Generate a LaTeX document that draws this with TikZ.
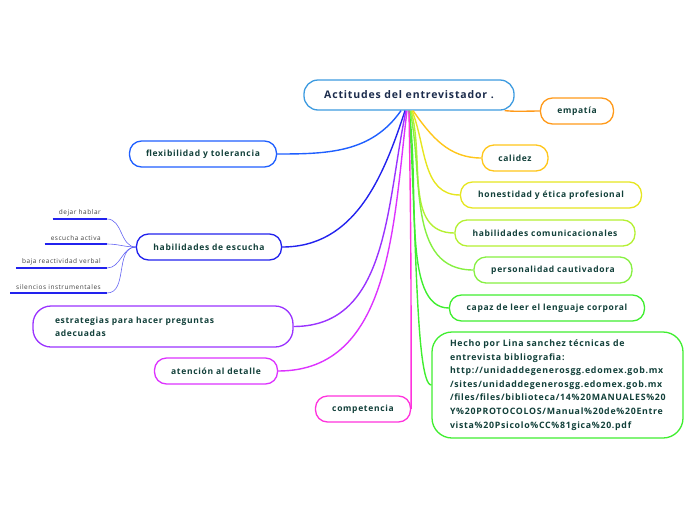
\documentclass[tikz,border=0pt]{standalone}
\usepackage{fontspec}
\setmainfont{Open Sans}[LetterSpace=8]
\usetikzlibrary{positioning}
\definecolor{entAzulClaro}{HTML}{3D9BE0}
\definecolor{entNaranja}{HTML}{FF9A1A}
\definecolor{entOro}{HTML}{FFC61A}
\definecolor{entAmarillo}{HTML}{E6E620}
\definecolor{entLima}{HTML}{B4F032}
\definecolor{entVerdeClaro}{HTML}{86F041}
\definecolor{entVerde}{HTML}{40EE30}
\definecolor{entAzul}{HTML}{1F5FFF}
\definecolor{entAzulOsc}{HTML}{2222EE}
\definecolor{entVioleta}{HTML}{9A33FF}
\definecolor{entLila}{HTML}{DD33FF}
\definecolor{entRosa}{HTML}{FF33DD}
\definecolor{entTexto}{HTML}{12403A}
\definecolor{entTitulo}{HTML}{1C2C4C}

\begin{document}
\begin{tikzpicture}[x=1pt, y=-1pt,
      rama/.style={rounded corners=12pt, draw=#1, line width=1.3pt, fill=white,
                   minimum height=26pt, align=center, text=entTexto,
                   font=\fontsize{8.5}{10}\selectfont\bfseries},
      hoja/.style={font=\fontsize{6.5}{7}\selectfont, text=black!75,
                   inner xsep=6pt, inner ysep=3pt, anchor=south east},
      enlace/.style={draw=#1, line width=1.4pt},
      subenlace/.style={draw=entAzulOsc!70, line width=0.6pt}]
    \useasboundingbox (0,0) rectangle (696,520);
    \node[rama=entAzulClaro, minimum width=210pt, minimum height=30pt, rounded corners=14pt,
          text=entTitulo, font=\fontsize{10.5}{12}\selectfont\bfseries] (central) at (409,95) {Actitudes del entrevistador .};
    % ramas derecha
    \node[rama=entNaranja, minimum width=73pt]     (empatia) at (577,111) {empatía};
    \node[rama=entOro, minimum width=66pt]         (calidez) at (515,158) {calidez};
    \node[rama=entAmarillo, minimum width=181pt]   (honest)  at (551,195) {honestidad y ética profesional};
    \node[rama=entLima, minimum width=180pt]       (comunic) at (545,233) {habilidades comunicacionales};
    \node[rama=entVerdeClaro, minimum width=158pt] (person)  at (553,270) {personalidad cautivadora};
    \node[rama=entVerde, minimum width=195pt]      (corporal) at (547,308) {capaz de leer el lenguaje corporal};
    \node[rama=entVerde, rounded corners=20pt, text width=215pt, inner xsep=18pt, align=left,
          minimum height=106pt, font=\fontsize{8.8}{13.6}\selectfont\bfseries] (hecho) at (557.5,385)
          {Hecho por Lina sanchez técnicas de\\
           entrevista bibliografia:\\
           http://unidaddegenerosgg.edomex.gob.mx\\
           /sites/unidaddegenerosgg.edomex.gob.mx\\
           /files/files/biblioteca/14\%20MANUALES\%20\\
           Y\%20PROTOCOLOS/Manual\%20de\%20Entre\\
           vista\%20Psicolo\%CC\%81gica\%20.pdf};
    % ramas izquierda
    \node[rama=entAzul, minimum width=147pt]    (flexib)  at (203,154) {flexibilidad y tolerancia};
    \node[rama=entAzulOsc, minimum width=145pt] (escucha) at (209,247) {habilidades de escucha};
    \node[rama=entVioleta, minimum height=41pt, rounded corners=18pt, text width=216pt,
          inner xsep=22pt, align=left, font=\fontsize{8.5}{13}\selectfont\bfseries] (estrat) at (163,326.5)
          {estrategias para hacer preguntas\\adecuadas};
    \node[rama=entLila, minimum width=123pt]    (atencion) at (216,371) {atención al detalle};
    \node[rama=entRosa, minimum width=95pt]     (compet)   at (363,409) {competencia};
    % hojas de escucha
    \node[hoja] (dejar)     at (107,219) {dejar hablar};
    \node[hoja] (activa)    at (107,244) {escucha activa};
    \node[hoja] (reactiv)   at (107,268) {baja reactividad verbal};
    \node[hoja] (silencios) at (107,293) {silencios instrumentales};
    \foreach \h in {dejar,activa,reactiv,silencios}{
      \draw[entAzulOsc, line width=2pt] (\h.south west) -- (\h.south east);
      \draw[subenlace] (escucha.west) to[out=180, in=0] (\h.south east);
    }
    % conectores
    \draw[enlace=entNaranja]    ([xshift=-10pt]central.south east) to[out=-5, in=180] (empatia.west);
    \draw[enlace=entOro]        ([xshift=4pt]central.south) to[out=-55, in=180] (calidez.west);
    \draw[enlace=entAmarillo]   ([xshift=3pt]central.south) to[out=-68, in=180] (honest.west);
    \draw[enlace=entLima]       ([xshift=2pt]central.south) to[out=-74, in=180] (comunic.west);
    \draw[enlace=entVerdeClaro] ([xshift=1pt]central.south) to[out=-78, in=180] (person.west);
    \draw[enlace=entVerde]      (central.south) to[out=-82, in=180, in looseness=0.6] (corporal.west);
    \draw[enlace=entVerde]      (central.south) to[out=-86, in=180, in looseness=0.15] (hecho.west);
    \draw[enlace=entAzul]       ([xshift=-8pt]central.south) to[out=235, in=0] (flexib.east);
    \draw[enlace=entAzulOsc]    ([xshift=-4pt]central.south) to[out=252, in=0] (escucha.east);
    \draw[enlace=entVioleta]    ([xshift=-3pt]central.south) to[out=258, in=0] (estrat.east);
    \draw[enlace=entLila]       ([xshift=-2pt]central.south) to[out=263, in=0] (atencion.east);
    \draw[enlace=entRosa]       (central.south) to[out=-89, in=90] (compet.east);
  \end{tikzpicture}
\end{document}
